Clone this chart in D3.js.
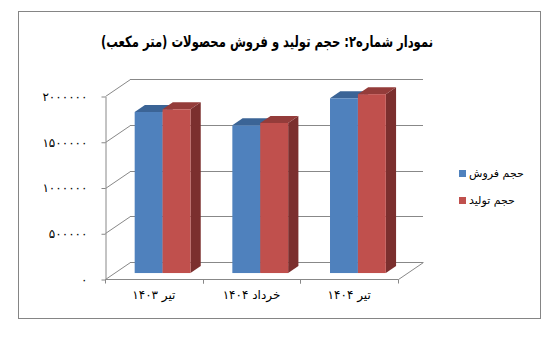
<!DOCTYPE html>
<html>
<head>
<meta charset="utf-8">
<script src="https://cdn.jsdelivr.net/npm/d3@7"></script>
<style>
	body { margin: 0; background: #fff; }
	text { font-family: "DejaVu Sans", "Noto Sans", sans-serif; }
</style>
</head>
<body>
<div id="chart"></div>
<script>
// data
var categories = ["تیر ۱۴۰۳", "خرداد ۱۴۰۴", "تیر ۱۴۰۴"];
var seriesNames = ["حجم فروش", "حجم تولید"];
var salesValues = [1760000, 1615000, 1910000];
var productionValues = [1790000, 1640000, 1955000];
var yTicks = [0, 500000, 1000000, 1500000, 2000000];
var seriesColors = ["#4f81bd", "#c0504d"];
var topColors = ["#3b6496", "#943c3a"];
var sideColors = ["#33577f", "#7b2f2e"];
var title = "نمودار شماره۲: حجم تولید و فروش محصولات (متر مکعب)";

var width = 554, height = 338;
var grid = "#888888";

// 3d depth of the plot box
var depthX = 25, depthY = -17;
var barT0 = 0.35, barT1 = 0.76;

function fa(n) {
	return String(n).replace(/\d/g, function (d) { return "۰۱۲۳۴۵۶۷۸۹"[+d]; });
}

var svg = d3.select("#chart").append("svg")
	.attr("width", width)
	.attr("height", height);

// outer border
svg.append("rect")
	.attr("x", 18.5).attr("y", 11.5)
	.attr("width", 522).attr("height", 307)
	.attr("fill", "#fff")
	.attr("stroke", "#858585");

svg.append("text")
	.attr("x", 267).attr("y", 47)
	.attr("text-anchor", "middle")
	.attr("direction", "rtl")
	.attr("textLength", 332)
	.attr("lengthAdjust", "spacingAndGlyphs")
	.style("font-weight", "bold")
	.style("font-size", "15.5px")
	.text(title);

var x = d3.scaleBand().domain(categories).range([105, 398]);
var xs = d3.scaleBand().domain(seriesNames).range([0, x.bandwidth()]).paddingOuter(0.75);
var y = d3.scaleLinear().domain([0, 2000000]).range([279, 96]);

// back wall gridlines and left wall diagonals
yTicks.forEach(function (v) {
	var yy = Math.round(y(v)) + 0.5;
	svg.append("line")
		.attr("x1", 105 + depthX).attr("y1", yy + depthY)
		.attr("x2", 398 + depthX).attr("y2", yy + depthY)
		.attr("stroke", grid);
	svg.append("line")
		.attr("x1", 105.5).attr("y1", yy)
		.attr("x2", 105.5 + depthX).attr("y2", yy + depthY)
		.attr("stroke", grid);
});

// floor right edge
svg.append("line")
	.attr("x1", 398.5).attr("y1", 279.5)
	.attr("x2", 398.5 + depthX).attr("y2", 279.5 + depthY)
	.attr("stroke", grid);

// bars
var seriesValues = [salesValues, productionValues];
categories.forEach(function (c, ci) {
	seriesNames.forEach(function (s, si) {
		var v = seriesValues[si][ci];
		var x0 = x(c) + xs(s) + depthX * barT0;
		var x1 = x0 + xs.bandwidth();
		var yb = y(0) + depthY * barT0;
		var yt = y(v) + depthY * barT0;
		var dx = depthX * (barT1 - barT0), dy = depthY * (barT1 - barT0);
		var g = svg.append("g");
		// side
		g.append("path")
			.attr("d", "M" + x1 + "," + yt + "L" + (x1 + dx) + "," + (yt + dy) +
				"L" + (x1 + dx) + "," + (yb + dy) + "L" + x1 + "," + yb + "Z")
			.attr("fill", sideColors[si]);
		// top
		g.append("path")
			.attr("d", "M" + x0 + "," + yt + "L" + (x0 + dx) + "," + (yt + dy) +
				"L" + (x1 + dx) + "," + (yt + dy) + "L" + x1 + "," + yt + "Z")
			.attr("fill", topColors[si]);
		// front
		g.append("rect")
			.attr("x", x0).attr("y", yt)
			.attr("width", x1 - x0).attr("height", yb - yt)
			.attr("fill", seriesColors[si]);
	});
});

// value axis
var yAxis = svg.append("g")
	.attr("transform", "translate(105.5,0.5)")
	.call(d3.axisLeft(y).tickValues(yTicks).tickSize(4).tickSizeOuter(0).tickPadding(14)
		.tickFormat(function (d) { return fa(d); }));
yAxis.select(".domain").attr("stroke", grid);
yAxis.selectAll(".tick line").attr("stroke", grid);
yAxis.selectAll("text").style("font-size", "12px").style("letter-spacing", "1.8px").attr("fill", "#000");
yAxis.attr("font-family", null);

// category axis
var xAxis = svg.append("g")
	.attr("transform", "translate(0,279.5)")
	.call(d3.axisBottom(x).tickSize(0).tickSizeOuter(0).tickPadding(11));
xAxis.select(".domain").attr("stroke", grid).attr("d", "M105.5,0H398.5");
xAxis.selectAll("text").style("font-size", "12px").attr("fill", "#000").attr("direction", "rtl");
xAxis.attr("font-family", null);
categories.forEach(function (c) {
	[x(c), x(c) + x.bandwidth()].forEach(function (px) {
		xAxis.append("line")
			.attr("x1", Math.round(px) + 0.5).attr("x2", Math.round(px) + 0.5)
			.attr("y1", 0).attr("y2", 4)
			.attr("stroke", grid);
	});
});

// legend
var legend = svg.append("g").attr("transform", "translate(459,170)");
seriesNames.forEach(function (s, i) {
	legend.append("rect")
		.attr("x", 0).attr("y", i * 27)
		.attr("width", 7).attr("height", 7)
		.attr("fill", seriesColors[i]);
	legend.append("text")
		.attr("x", 10).attr("y", i * 27 + 7)
		.style("font-size", "11px")
		.text(s);
});
</script>
</body>
</html>
